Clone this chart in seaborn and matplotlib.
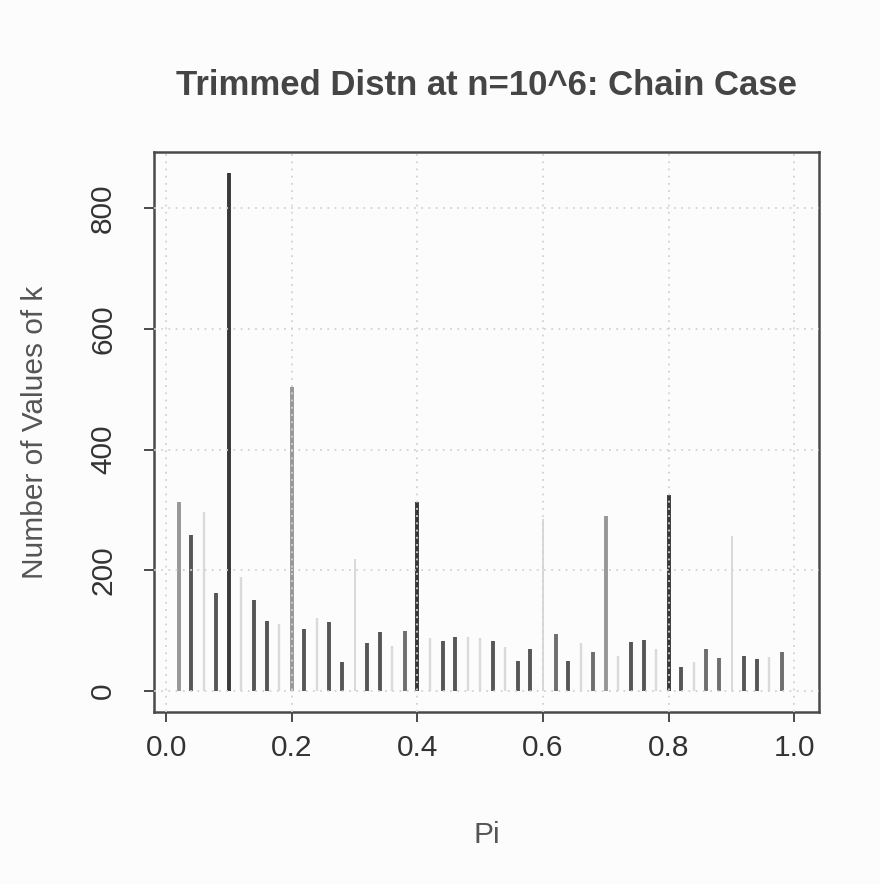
import numpy as np
import pandas as pd
import matplotlib
matplotlib.use("Agg")
import matplotlib.pyplot as plt
import seaborn as sns

# pi values 0.02 .. 0.98 and the number of k values at each one
pi_vals = [round(0.02 * i, 2) for i in range(1, 50)]
counts = [313, 258, 296, 163, 859, 188, 150, 116, 110, 504,
          102, 121, 114, 47, 218, 79, 97, 75, 99, 313,
          88, 83, 89, 90, 88, 83, 72, 50, 69, 285,
          94, 50, 80, 65, 290, 58, 81, 85, 70, 325,
          40, 47, 69, 55, 257, 57, 52, 56, 65]
# shade group of each stick
shade = ["mid", "dark", "light", "dark", "black", "light", "dark", "dark", "light", "mid",
         "dark", "light", "dark", "dark", "thin", "dark", "dark", "light", "mdark", "black",
         "light", "dark", "dark", "light", "light", "dark", "light", "dark", "dark", "thin",
         "mdark", "dark", "light", "mdark", "mid", "light", "dark", "dark", "light", "black",
         "dark", "light", "mdark", "mdark", "thin", "dark", "dark", "light", "mdark"]

x_ticks = [0.0, 0.2, 0.4, 0.6, 0.8, 1.0]
y_ticks = [0, 200, 400, 600, 800]

df = pd.DataFrame({"pi": pi_vals, "count": counts, "shade": shade})

colors = {"black": "#383838", "dark": "#565656", "mdark": "#6e6e6e",
          "mid": "#979797", "light": "#dadada", "thin": "#cfcfcf"}
widths = {"black": 2.8, "dark": 2.8, "mdark": 2.8, "mid": 2.8, "light": 1.7, "thin": 1.1}

sns.set_theme(style="white")
plt.rcParams["font.family"] = ["Liberation Sans", "DejaVu Sans"]

fig = plt.figure(figsize=(8.8, 8.84), dpi=100, facecolor="#fcfcfc")
ax = fig.add_axes([0.175, 0.1946, 0.7557, 0.6334])
ax.set_facecolor("#fcfcfc")

for name, sub in df.groupby("shade"):
    ax.vlines(sub["pi"], 0, sub["count"], colors=colors[name],
              linewidth=widths[name], zorder=2)

ax.set_xlim(-0.0192, 1.0392)
ax.set_ylim(-35, 893)
ax.set_xticks(x_ticks)
ax.set_xticklabels([f"{v:.1f}" for v in x_ticks])
ax.set_yticks(y_ticks)
ax.set_yticklabels([str(v) for v in y_ticks], rotation=90, va="center")

ax.grid(True, color="#d3d3d3", linestyle=(0, (1, 3)), linewidth=1.3)
ax.set_axisbelow(False)

for s in ax.spines.values():
    s.set_color("#4a4a4a")
    s.set_linewidth(1.8)

ax.tick_params(axis="both", direction="out", length=7.5, width=1.4, color="#4a4a4a",
               labelsize=21.5, labelcolor="#333333")
ax.tick_params(axis="x", pad=8, bottom=True)
ax.tick_params(axis="y", pad=19, left=True)

ax.set_title("Trimmed Distn at n=10^6: Chain Case", fontsize=25, fontweight="bold",
             color="#454545", pad=41)
ax.set_xlabel("Pi", fontsize=21.5, color="#555555")
ax.set_ylabel("Number of Values of k", fontsize=21.5, color="#555555")
ax.xaxis.set_label_coords(0.5, -0.195)
ax.yaxis.set_label_coords(-0.158, 0.5)

fig.savefig("out.png", dpi=100, facecolor=fig.get_facecolor())
